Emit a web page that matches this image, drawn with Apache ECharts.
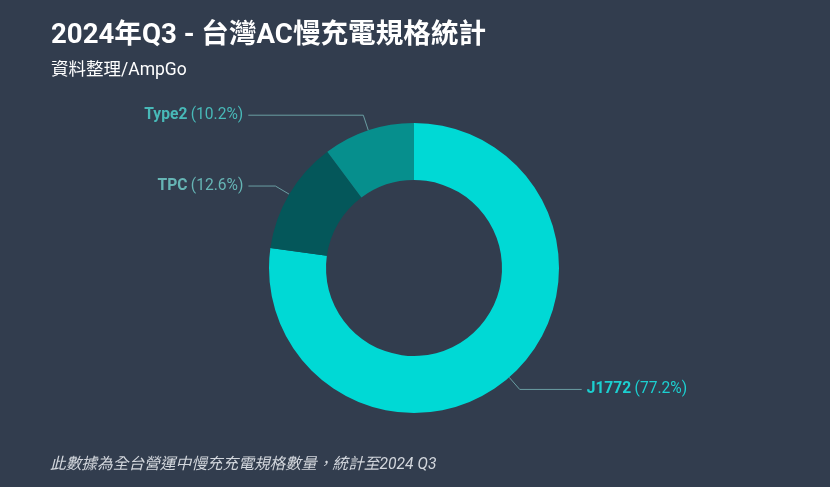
<!DOCTYPE html>
<html><head><meta charset="utf-8">
<script src="https://cdn.jsdelivr.net/npm/echarts@6/dist/echarts.min.js"></script>
<style>html,body{margin:0;padding:0;background:#323d4e;}#c{width:830px;height:487px;}</style>
</head><body><div id="c"></div>
<script>
const categories = ['J1772', 'TPC', 'Type2'];
const values = [77.2, 12.6, 10.2];
const sliceColors = ['#00d9d5', '#04575a', '#068f8d'];
const labelColors = ['#1ccfd0', '#66b5b5', '#48b9b8'];
const lineLen2 = [62, 27, 115];
const FONT = 'Roboto, "Noto Sans CJK TC", sans-serif';

const chart = echarts.init(document.getElementById('c'));
chart.setOption({
  backgroundColor: '#323d4e',
  title: {
    text: '2024年Q3 - 台灣AC慢充電規格統計',
    subtext: '資料整理/AmpGo',
    left: 46, top: 17, itemGap: 12,
    textStyle: {color: '#ffffff', fontSize: 27.6, fontWeight: 'bold', fontFamily: FONT},
    subtextStyle: {color: '#ffffff', fontSize: 17.5, fontFamily: FONT}
  },
  graphic: [{
    type: 'text', left: 50, top: 457,
    style: {text: '此數據為全台營運中慢充充電規格數量，統計至2024 Q3', fill: '#d3d7dd', fontSize: 15.7, fontStyle: 'italic', fontFamily: FONT}
  }],
  series: [{
    type: 'pie',
    center: [414, 268],
    radius: [88, 145],
    startAngle: 90,
    clockwise: true,
    avoidLabelOverlap: false,
    label: {
      show: true, position: 'outside',
      formatter: p => '{n|' + p.name + '} {p|(' + p.value.toFixed(1) + '%)}',
      rich: {
        n: {fontWeight: 'bold', fontSize: 15.6, fontFamily: FONT},
        p: {fontSize: 15.6, fontFamily: FONT}
      }
    },
    labelLine: {length: 16, lineStyle: {color: '#6a9ea3', width: 1}},
    emphasis: {disabled: true},
    data: categories.map((c, i) => ({
      name: c, value: values[i],
      itemStyle: {color: sliceColors[i], borderWidth: 0},
      label: {color: labelColors[i], rich: {n: {color: labelColors[i]}, p: {color: labelColors[i]}}},
      labelLine: {length2: lineLen2[i]}
    }))
  }]
});
</script></body></html>
